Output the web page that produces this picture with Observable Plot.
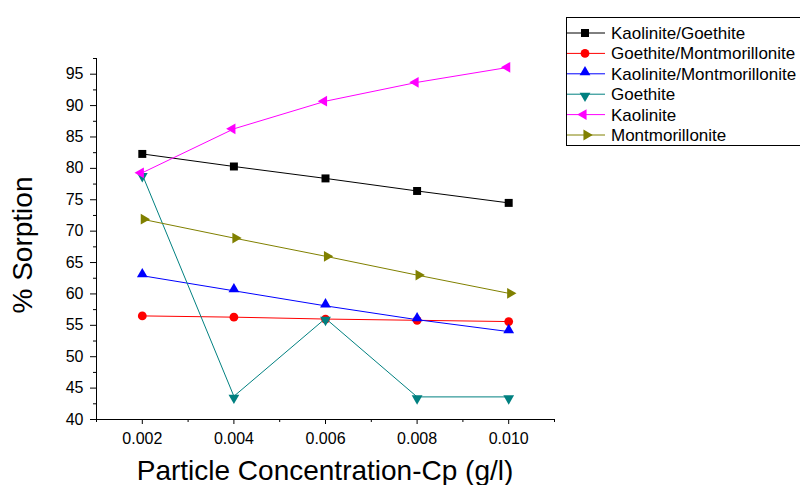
<!DOCTYPE html>
<html>
<head>
<meta charset="utf-8">
<script src="https://cdn.jsdelivr.net/npm/d3@7"></script>
<script src="https://cdn.jsdelivr.net/npm/@observablehq/plot@0.6"></script>
<style>
  html, body { margin: 0; padding: 0; background: #fff; }
  #chart { width: 800px; height: 485px; overflow: hidden; }
</style>
</head>
<body>
<div id="chart"></div>
<script>
// ---- Data ----
const concentrations = [0.002, 0.004, 0.006, 0.008, 0.010];
const seriesNames = ["Kaolinite/Goethite", "Goethite/Montmorillonite", "Kaolinite/Montmorillonite", "Goethite", "Kaolinite", "Montmorillonite"];
const kaoliniteGoethite = [82.3, 80.3, 78.4, 76.4, 74.5];
const goethiteMontmorillonite = [56.5, 56.3, 56.0, 55.8, 55.6];
const kaoliniteMontmorillonite = [62.9, 60.5, 58.1, 55.9, 54.0];
const goethite = [79.0, 43.7, 56.1, 43.6, 43.6];
const kaolinite = [79.3, 86.3, 90.7, 93.7, 96.1];
const montmorillonite = [71.9, 68.9, 66.0, 63.0, 60.1];
const seriesValues = [kaoliniteGoethite, goethiteMontmorillonite, kaoliniteMontmorillonite, goethite, kaolinite, montmorillonite];
const xTickLabels = [0.002, 0.004, 0.006, 0.008, 0.010];
const xMinorTicks = [0.001, 0.003, 0.005, 0.007, 0.009, 0.011];
const yTickLabels = [40, 45, 50, 55, 60, 65, 70, 75, 80, 85, 90, 95];
const yMinorTicks = [42.5, 47.5, 52.5, 57.5, 62.5, 67.5, 72.5, 77.5, 82.5, 87.5, 92.5, 97.5];

// ---- Styles ----
const colors = ["#000000", "#ff0000", "#0000ff", "#008080", "#ff00ff", "#808000"];
const sqrt3 = Math.sqrt(3);
function tri(dir) {
  return {
    draw(context, size) {
      const y = -Math.sqrt(size / (sqrt3 * 3));
      let pts = [[0, y * 2], [-sqrt3 * y, -y], [sqrt3 * y, -y]];
      pts = pts.map(([a, b]) => [a, b + y / 2]);
      if (dir === "down") pts = pts.map(([a, b]) => [a, -b]);
      if (dir === "left") pts = pts.map(([a, b]) => [b, a]);
      if (dir === "right") pts = pts.map(([a, b]) => [-b, a]);
      context.moveTo(pts[0][0], pts[0][1]);
      context.lineTo(pts[1][0], pts[1][1]);
      context.lineTo(pts[2][0], pts[2][1]);
      context.closePath();
    }
  };
}
const symbols = [d3.symbolSquare, d3.symbolCircle, tri("up"), tri("down"), tri("left"), tri("right")];
const radii = [4.5, 4.4, 4, 4, 4, 4];

const rows = seriesNames.flatMap((name, i) =>
  concentrations.map((c, j) => ({series: name, x: c, y: seriesValues[i][j]})));

const seriesMarks = seriesNames.flatMap((name, i) => {
  const d = rows.filter(r => r.series === name);
  return [
    Plot.line(d, {x: "x", y: "y", stroke: colors[i], strokeWidth: 1}),
    Plot.dot(d, {x: "x", y: "y", symbol: symbols[i], fill: colors[i], r: radii[i]})
  ];
});

const font = "'Liberation Sans', Arial, sans-serif";

const svg = Plot.plot({
  width: 800,
  height: 485,
  marginLeft: 96,
  marginRight: 246,
  marginTop: 58,
  marginBottom: 66,
  style: {fontFamily: font, fontSize: "16px", color: "#000", background: "#fff", overflow: "visible"},
  x: {domain: [0.001, 0.011]},
  y: {domain: [40, 97.5]},
  marks: [
    Plot.axisX({ticks: xTickLabels, tickSize: 5, tickPadding: 8, tickFormat: d3.format(".3f"), label: null, fontSize: 16}),
    Plot.axisX({ticks: xMinorTicks, tickSize: 3, tickFormat: () => "", label: null}),
    Plot.axisY({ticks: yTickLabels, tickSize: 6, tickPadding: 7, label: null, fontSize: 16}),
    Plot.axisY({ticks: yMinorTicks, tickSize: 3, tickFormat: () => "", label: null}),
    Plot.ruleY([40], {stroke: "#000", strokeWidth: 1}),
    Plot.ruleX([0.001], {stroke: "#000", strokeWidth: 1}),
    ...seriesMarks
  ]
});

const s = d3.select(svg);
// Axis titles
s.append("text")
  .attr("x", 325).attr("y", 480)
  .attr("text-anchor", "middle")
  .attr("font-family", font).attr("font-size", 28).attr("fill", "#000")
  .text("Particle Concentration-Cp (g/l)");
s.append("text")
  .attr("transform", "translate(32,245) rotate(-90)")
  .attr("text-anchor", "middle")
  .attr("font-family", font).attr("font-size", 28).attr("fill", "#000")
  .text("% Sorption");

// Legend
const lg = s.append("g").attr("text-anchor", "start");
lg.append("rect").attr("x", 566.5).attr("y", 17.5).attr("width", 260).attr("height", 128)
  .attr("fill", "#fff").attr("stroke", "#000").attr("stroke-width", 1);
seriesNames.forEach((name, i) => {
  const yy = 33 + i * 20.4;
  lg.append("line").attr("x1", 567).attr("x2", 605).attr("y1", yy).attr("y2", yy)
    .attr("stroke", colors[i]).attr("stroke-width", 1);
  const size = radii[i] * radii[i] * Math.PI;
  lg.append("path").attr("transform", `translate(585,${yy})`)
    .attr("d", d3.symbol(symbols[i], size)()).attr("fill", colors[i]);
  lg.append("text").attr("x", 611).attr("y", yy).attr("dy", "0.35em")
    .attr("text-anchor", "start")
    .attr("font-family", font).attr("font-size", 17).attr("fill", "#000")
    .text(name);
});

document.getElementById("chart").appendChild(svg);
</script>
</body>
</html>
